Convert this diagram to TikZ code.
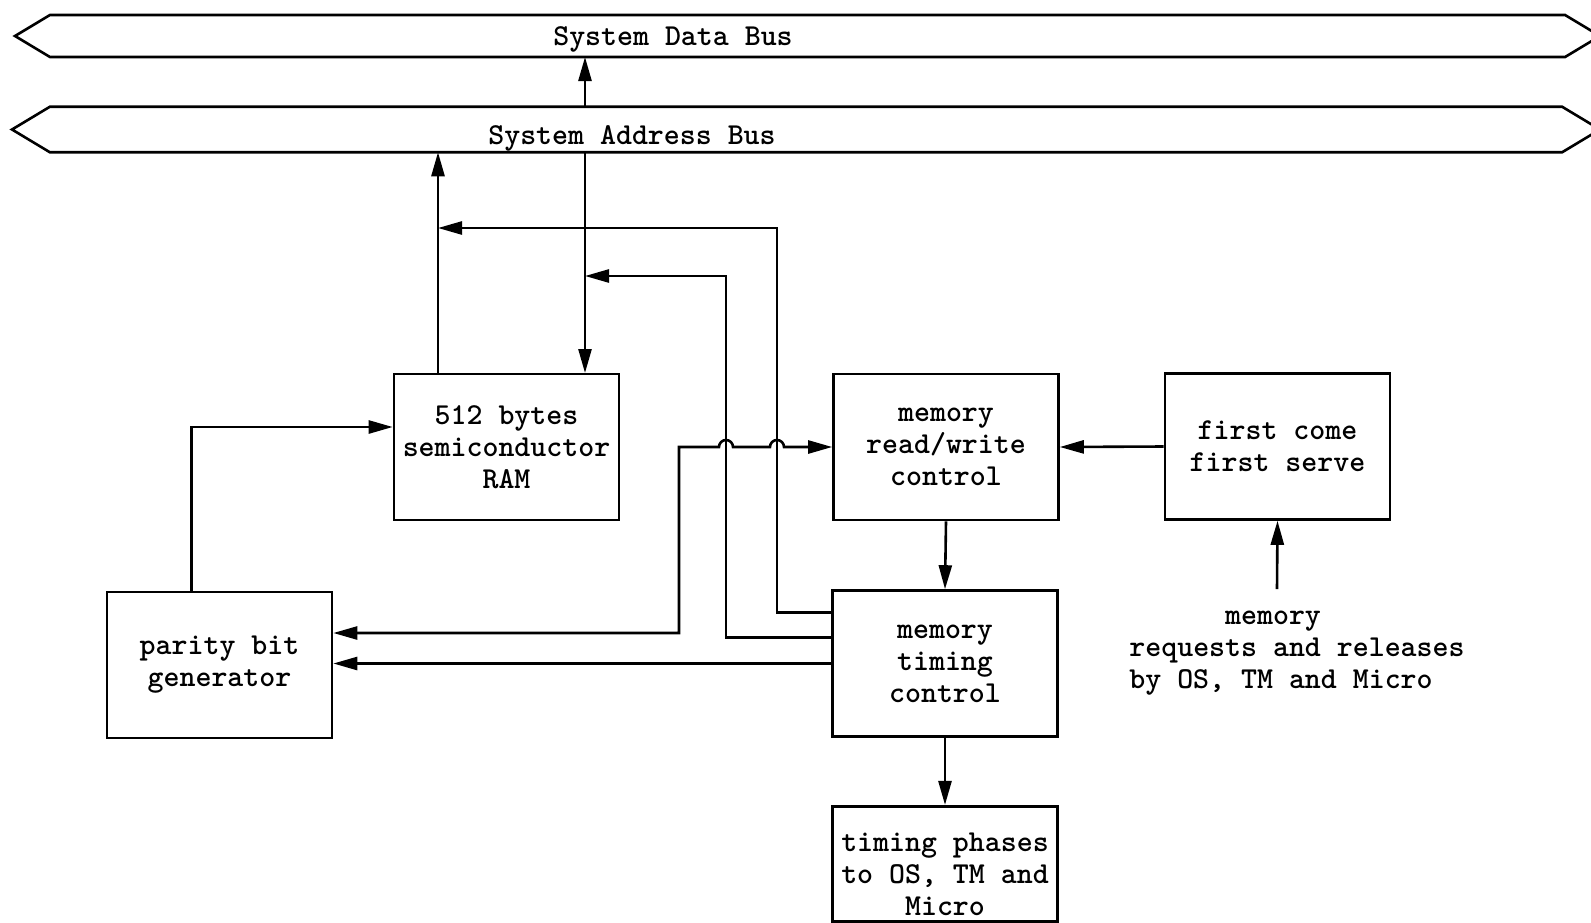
\documentclass[tikz,border=0pt]{standalone}
\usepackage{fontspec}
\usetikzlibrary{shapes.symbols,positioning,calc,arrows.meta}

\tikzset{
  block/.style={draw, line width=1.3pt, minimum width=112.5pt, minimum height=73pt, align=center, inner sep=1pt},
  bus/.style={signal, draw, line width=1.3pt, signal to=west and east, signal pointer angle=62, inner sep=0pt, outer sep=0pt},
  wire/.style={line width=1.3pt},
  arr/.style={wire, -{Triangle[length=12pt,width=6.5pt]}},
  dbl/.style={wire, {Triangle[length=12pt,width=6.5pt]}-{Triangle[length=12pt,width=6.5pt]}},
}

\begin{document}
\begin{tikzpicture}[x=0.5pt, y=-0.5pt, font=\fontsize{15.2}{16}\selectfont\ttfamily\bfseries]
  \useasboundingbox (0,0) rectangle (1591,922);

  % buses
  \node[bus, minimum width=792.5pt, minimum height=21pt] (databus) at (807.5,36) {};
  \node[bus, minimum width=794pt, minimum height=22.75pt] (addrbus) at (806,129.5) {};
  \node (dblabel) at (673,39) {System Data Bus};
  \node (ablabel) at (632,138) {System Address Bus};

  % blocks
  \node[block] (ram) at (506.5,447) {512 bytes\\semiconductor\\RAM};
  \node[block] (rw) at (946,447) {memory\\read/write\\control};
  \node[block] (fcfs) at (1277.5,446.5) {first come\\first serve};
  \node[block] (timing) at (945,663.5) {memory\\timing\\control};
  \node[block] (parity) at (219.5,665) {parity bit\\generator};
  \node[block, minimum height=57pt, inner sep=0pt] (phases) at (945,864)
    {\rule{0pt}{22.5pt}timing phases\\to OS, TM and\\Micro\vphantom{p}};
  \node[anchor=north west, inner sep=0pt, align=left] (req) at (1129,611)
    {\hphantom{xxxxxx}memory\\requests and releases\\by OS, TM and Micro};

  \coordinate (ramaddr) at (438,373);
  \coordinate (ramdata) at (585,373);
  \coordinate (reqtop) at (1277,589);

  % RAM to the buses
  \draw[arr] (ramdata |- addrbus.north) -- (ramdata |- databus.south);
  \draw[arr] (ramdata |- addrbus.south) -- (ramdata);
  \draw[arr] (ramaddr) -- (ramaddr |- addrbus.south);

  % timing control lines
  \draw[arr] ($(timing.west)+(0,-51)$) -| (777,228) -- (ramaddr |- 0,228);
  \draw[arr] ($(timing.west)+(0,-26)$) -| (726,276) -- (ramdata |- 0,276);
  \draw[arr] (timing.west) -- (timing.west -| parity.east);
  \draw[dbl] ($(parity.east)+(0,-32)$) -| (679,447) -- (719,447)
    arc[start angle=180, end angle=360, radius=7] -- (770,447)
    arc[start angle=180, end angle=360, radius=7] -- (rw.west);

  % parity to RAM
  \draw[arr] ($(parity.north)+(-28,0)$) |- ($(ram.west)+(0,-20)$);

  % control chain
  \draw[arr] (fcfs.west) -- (rw.east);
  \draw[arr] (rw.south) -- (timing.north);
  \draw[arr] (timing.south) -- (phases.north);
  \draw[arr] (reqtop) -- (fcfs.south);
\end{tikzpicture}
\end{document}
